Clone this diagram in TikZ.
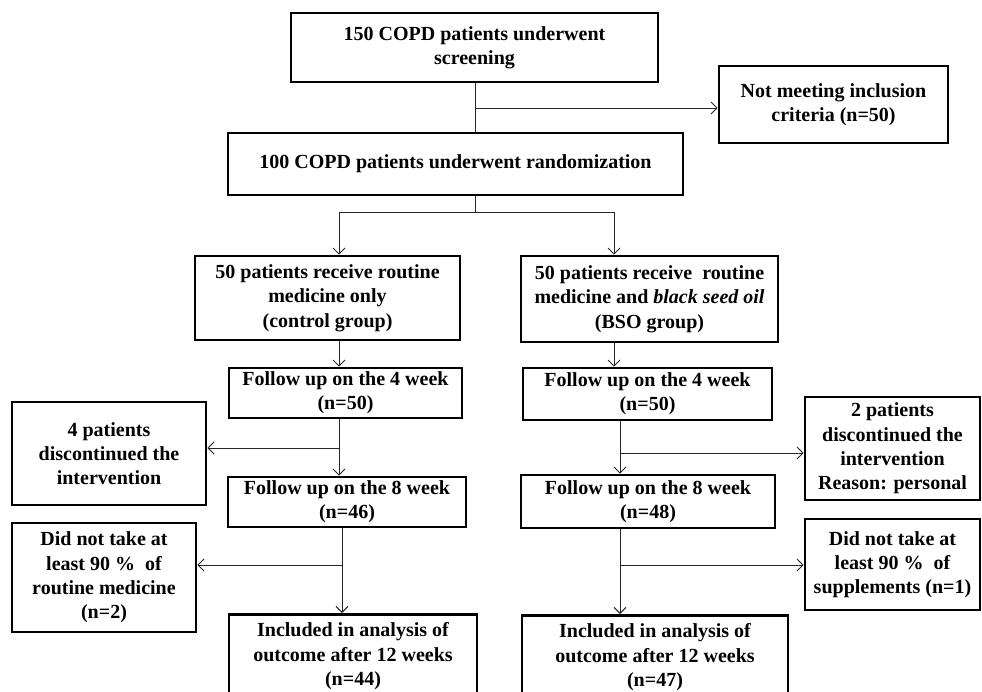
\documentclass[tikz,border=0pt]{standalone}
\usepackage{fontspec}
\setmainfont{Liberation Serif}
\usetikzlibrary{arrows.meta}
\begin{document}
\begin{tikzpicture}[x=1pt,y=-1pt,
  box/.style={draw, line width=2.6pt, align=center, inner sep=0pt,
    font=\fontsize{20}{24.3}\selectfont\bfseries},
  conn/.style={line width=1pt, draw=black!85},
  arr/.style={conn, -{Straight Barb[length=6pt,width=12pt]}}]
\useasboundingbox (0,0) rectangle (982,691);
\fill[white] (0,0) rectangle (982,691);
\clip (0,0) rectangle (982,691);

% boxes
\node[box, minimum width=367, minimum height=69] (A) at (474.5,47.5) {150 COPD patients underwent\\screening};
\node[box, minimum width=229, minimum height=77] (B) at (833.5,104.5) {Not meeting inclusion\\criteria (n=50)};
\node[box, minimum width=455, minimum height=62] (C) at (455.5,164) {100 COPD patients underwent randomization};
\node[box, minimum width=265, minimum height=84] (D) at (327.5,298) {50 patients receive routine\\medicine only\\(control group)};
\node[box, minimum width=257, minimum height=86] (E) at (649.5,299) {50 patients receive\ \ routine\\medicine and \textit{black seed oil}\\(BSO group)};
\node[box, minimum width=233, minimum height=50] (F) at (345.5,393) {Follow up on the 4 week\\(n=50)};
\node[box, minimum width=249, minimum height=52] (G) at (647.5,394) {Follow up on the 4 week\\(n=50)};
\node[box, minimum width=194, minimum height=103] (H) at (109,453.5) {4 patients\\discontinued the\\intervention};
\node[box, minimum width=175, minimum height=103] (I) at (892.5,448.5) {2 patients\\discontinued the\\intervention\\Reason: personal};
\node[box, minimum width=238, minimum height=50] (J) at (347,502) {Follow up on the 8 week\\(n=46)};
\node[box, minimum width=254, minimum height=53] (K) at (648,501.5) {Follow up on the 8 week\\(n=48)};
\node[box, minimum width=184, minimum height=109] (L) at (104,577.5) {Did not take at\\least 90 \%\ \ of\\routine medicine\\(n=2)};
\node[box, minimum width=175, minimum height=91] (M) at (892.5,564.5) {Did not take at\\least 90 \%\ \ of\\supplements (n=1)};
\node[box, anchor=north, minimum width=248, minimum height=84] (N) at (353,613) {Included in analysis of\\outcome after 12 weeks\\(n=44)};
\node[box, anchor=north, minimum width=266, minimum height=84] (O) at (655,614) {Included in analysis of\\outcome after 12 weeks\\(n=47)};

% branch points
\coordinate (a1) at (475,108);
\coordinate (c1) at (475,212);
\coordinate (cl) at (339,212);
\coordinate (cr) at (614,212);
\coordinate (fl) at (339,448);
\coordinate (gr) at (620,453);
\coordinate (jl) at (342,565);
\coordinate (kr) at (620,565);

% connectors
\draw[conn] (A.south -| a1) -- (C.north -| a1);
\draw[arr] (a1) -- (a1 -| B.west);
\draw[conn] (C.south -| c1) -- (c1);
\draw[conn] (cl) -- (cr);
\draw[arr] (cl) -- (cl |- D.north);
\draw[arr] (cr) -- (cr |- E.north);
\draw[arr] (D.south -| cl) -- (F.north -| cl);
\draw[arr] (E.south -| cr) -- (G.north -| cr);
\draw[arr] (F.south -| fl) -- (J.north -| fl);
\draw[arr] (fl) -- (fl -| H.east);
\draw[arr] (G.south -| gr) -- (K.north -| gr);
\draw[arr] (gr) -- (gr -| I.west);
\draw[arr] (J.south -| jl) -- (N.north -| jl);
\draw[arr] (jl) -- (jl -| L.east);
\draw[arr] (K.south -| kr) -- (O.north -| kr);
\draw[arr] (kr) -- (kr -| M.west);
\end{tikzpicture}
\end{document}
